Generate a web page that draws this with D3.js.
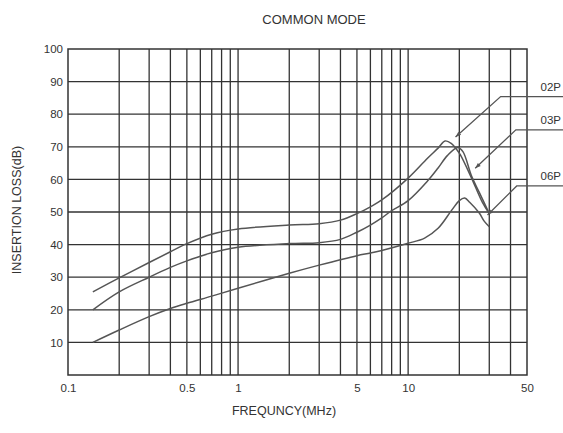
<!DOCTYPE html>
<html><head><meta charset="utf-8">
<script src="https://cdn.jsdelivr.net/npm/d3@7/dist/d3.min.js"></script>
<style>
html,body{margin:0;padding:0;background:#fff;}
text{font-family:"Liberation Sans",Arial,sans-serif;fill:#333;}
</style></head><body>
<svg id="c" width="563" height="433"></svg>
<script>
// ---- data ----
const title = "COMMON MODE";
const xTitle = "FREQUNCY(MHz)";
const yTitle = "INSERTION LOSS(dB)";
const xTickLabels = [0.1, 0.5, 1, 5, 10, 50];
const yTickLabels = [10, 20, 30, 40, 50, 60, 70, 80, 90, 100];
const xGrid = [0.2,0.3,0.4,0.5,0.6,0.7,0.8,0.9,1,2,3,4,5,6,7,8,9,10,20,30,40];
const yGrid = [10,20,30,40,50,60,70,80,90];

const freq02P = [0.14,0.2,0.3,0.4,0.5,0.7,1,2,3,4,5,6,7,10,13,15,16.5,18,19.4,20.3,23.6,27.3,30];
const loss02P = [25.5,29.8,34.5,37.8,40.3,43.2,44.8,46,46.4,47.5,49.5,51.6,53.7,60.4,66.5,69.6,71.8,71,69,67.5,60.4,53,49.5];

const freq03P = [0.14,0.2,0.3,0.4,0.5,0.7,1,2,3,4,5,6,7,8,10,13,15,17,19.6,21,23.6,26.2,30];
const loss03P = [20,25.5,30,33,35,37.5,39.2,40.3,40.6,41.6,43.8,46,48.2,50.4,53.5,59.5,63.5,67.3,69.8,68.5,61,56,49.5];

const freq06P = [0.14,0.2,0.3,0.4,0.5,0.7,1,2,3,5,6,7,10,12.5,15,18,20,21.5,23,26.2,28,30];
const loss06P = [10,13.8,17.9,20.4,22,24.2,26.6,31.2,33.7,36.6,37.4,38.2,40.4,42,45,50.5,53.5,54.3,53,49.7,47.2,45.5];

const seriesNames = ["02P","03P","06P"];
const labelLevel = [85.4, 75.2, 58];      // dB level of each label's leader line
const elbowFreq = [35, 43, 43.5];          // where the leader bends
const tipFreq = [19, 24.8, 29.3];           // arrow tip
const tipLoss = [73, 63.4, 49.1];

// ---- chart ----
const W = 563, H = 433;
const svg = d3.select("#c");
const x = d3.scaleLog().domain([0.1, 50]).range([68, 527]);
const y = d3.scaleLinear().domain([0, 100]).range([375, 49]);
const gridColor = "#333";

// grid
svg.append("g").selectAll("line").data(xGrid).join("line")
  .attr("x1", d => x(d)).attr("x2", d => x(d))
  .attr("y1", y(0)).attr("y2", y(100))
  .attr("stroke", gridColor).attr("stroke-width", 1.3);
svg.append("g").selectAll("line").data(yGrid).join("line")
  .attr("x1", x(0.1)).attr("x2", x(50))
  .attr("y1", d => y(d)).attr("y2", d => y(d))
  .attr("stroke", gridColor).attr("stroke-width", 1.3);
svg.append("rect")
  .attr("x", x(0.1)).attr("y", y(100))
  .attr("width", x(50) - x(0.1)).attr("height", y(0) - y(100))
  .attr("fill", "none").attr("stroke", gridColor).attr("stroke-width", 1.5);

// axes (labels only)
const xAxis = d3.axisBottom(x).tickValues(xTickLabels).tickFormat(d => String(d)).tickSize(0).tickPadding(9);
const gx = svg.append("g").attr("transform", `translate(0,${y(0)})`).call(xAxis);
gx.select(".domain").remove();
gx.selectAll("text").attr("font-size", 11.5).attr("fill", "#333").attr("font-family", "Liberation Sans, Arial, sans-serif");

const yAxis = d3.axisLeft(y).tickValues(yTickLabels).tickSize(0).tickPadding(5);
const gy = svg.append("g").attr("transform", `translate(${x(0.1)},0)`).call(yAxis);
gy.select(".domain").remove();
gy.selectAll("text").attr("font-size", 11.5).attr("fill", "#333").attr("font-family", "Liberation Sans, Arial, sans-serif");

// curves
const line = d3.line().x(d => x(d[0])).y(d => y(d[1])).curve(d3.curveCatmullRom.alpha(0.5));
[[freq02P, loss02P], [freq03P, loss03P], [freq06P, loss06P]].forEach(([f, v]) => {
  svg.append("path").datum(f.map((fi, i) => [fi, v[i]]))
    .attr("d", line).attr("fill", "none")
    .attr("stroke", "#555").attr("stroke-width", 1.5);
});

// leaders and labels
seriesNames.forEach((name, i) => {
  const yl = y(labelLevel[i]);
  const ex = x(elbowFreq[i]);
  const tx = x(tipFreq[i]), ty = y(tipLoss[i]);
  svg.append("polyline")
    .attr("points", `${W},${yl} ${ex},${yl} ${tx},${ty}`)
    .attr("fill", "none").attr("stroke", "#555").attr("stroke-width", 1.3);
  const ang = Math.atan2(ty - yl, tx - ex);
  const L = 6, A = 0.35;
  svg.append("path")
    .attr("d", `M${tx},${ty} L${tx - L*Math.cos(ang - A)},${ty - L*Math.sin(ang - A)} L${tx - L*Math.cos(ang + A)},${ty - L*Math.sin(ang + A)} Z`)
    .attr("fill", "#555");
  svg.append("text").attr("x", 561).attr("y", yl - 6)
    .attr("text-anchor", "end").attr("font-size", 11.5).text(name);
});

// titles
svg.append("text").attr("x", 314).attr("y", 24).attr("text-anchor", "middle")
  .attr("font-size", 13).text(title);
svg.append("text").attr("x", 284).attr("y", 415).attr("text-anchor", "middle")
  .attr("font-size", 12.5).text(xTitle);
svg.append("text").attr("transform", "translate(21,210) rotate(-90)")
  .attr("text-anchor", "middle").attr("font-size", 12.5).text(yTitle);
</script>
</body></html>
